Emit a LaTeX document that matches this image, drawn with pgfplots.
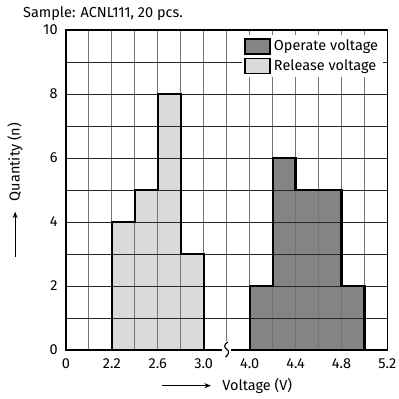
\documentclass[border=0pt]{standalone}
\usepackage{pgfplots}
\pgfplotsset{compat=1.18}
\usepackage{fontspec}
\setmainfont{Fira Sans}
\usetikzlibrary{arrows.meta}
\definecolor{relfill}{HTML}{DADADA}
\definecolor{opfill}{HTML}{848484}
\pgfplotstableread{
x y
2 0
2 4
3 5
4 8
5 3
6 0
}\release
\pgfplotstableread{
x y
8 0
8 2
9 6
10 5
11 5
12 2
13 0
}\operate
\begin{document}
\begin{tikzpicture}
\begin{axis}[
  set layers=axis on top,
  clip mode=individual,
  scale only axis,
  width=222pt, height=221pt,
  xmin=0, xmax=14, ymin=0, ymax=10,
  xtick={0,...,14},
  xticklabels={0,,2.2,,2.6,,3.0,,4.0,,4.4,,4.8,,5.2},
  ytick={0,...,10},
  yticklabels={0,,2,,4,,6,,8,,10},
  major tick length=0pt,
  xmajorgrids, ymajorgrids,
  x grid style={black!55, line width=0.6pt},
  y grid style={black!85, line width=0.6pt},
  axis line style={black, line width=1pt},
  /pgf/number format/assume math mode=true,
  tick label style={font=\normalsize},
  xticklabel style={yshift=-2.2pt},
  yticklabel style={xshift=-2.2pt},
  xlabel={\tikz[baseline=-3pt]\draw[line width=0.6pt,-{Stealth[length=4.5pt,width=3.5pt]}] (0,0)--(34pt,0);\hspace{7.6pt}Voltage (V)},
  ylabel={\tikz[baseline=-3pt]\draw[line width=0.6pt,-{Stealth[length=4.5pt,width=3.5pt]}] (0,0)--(31pt,0);\hspace{7pt}Quantity (n)},
  label style={font=\normalsize},
  xlabel style={at={(0.5,-0.1249)}, anchor=base},
  ylabel style={at={(-0.1443,0.5)}, anchor=base, rotate=0},
  legend style={at={(1,1)}, anchor=north east, draw=none, fill=white, font=\normalsize,
    inner xsep=1.5pt, inner ysep=2pt, row sep=2pt, xshift=-2.8pt, yshift=-3.5pt,
    nodes={inner xsep=2pt, inner ysep=1pt}},
  legend cell align=left,
  legend image code/.code={\draw[#1] (0pt,-5.2pt) rectangle (17.3pt,5.2pt);},
]
\addlegendimage{fill=opfill, draw=black, line width=1.1pt}
\addlegendentry{Operate voltage}
\addlegendimage{fill=relfill, draw=black, line width=1.1pt}
\addlegendentry{Release voltage}
% fills (grid drawn on top)
\addplot[const plot, fill=relfill, draw=none, forget plot] table {\release} -- cycle;
\addplot[const plot, fill=opfill, draw=none, forget plot] table {\operate} -- cycle;
% outlines above the grid
\addplot[const plot, draw=black, line width=1.5pt, forget plot, on layer=axis foreground] table {\release};
\addplot[const plot, draw=black, line width=1.5pt, forget plot, on layer=axis foreground] table {\operate};
% axis break symbol
\begin{pgfonlayer}{axis foreground}
\fill[white] (axis cs:6.8,-0.25) rectangle (axis cs:7.2,0.27);
\draw[line width=0.8pt] (axis cs:6.95,-0.22) .. controls (axis cs:7.12,-0.12) and (axis cs:7.12,-0.02) .. (axis cs:7.0,0.03)
  .. controls (axis cs:6.88,0.08) and (axis cs:6.88,0.18) .. (axis cs:7.05,0.25);
\end{pgfonlayer}
\coordinate (BL) at (rel axis cs:0,0);
\coordinate (TR) at (rel axis cs:1,1);
\end{axis}
\node[anchor=base west, inner sep=0pt, font=\normalsize] at ([shift={(-29.7pt,8.8pt)}]BL|-TR) {Sample: ACNL111, 20 pcs.};
\pgfresetboundingbox
\path[use as bounding box] ([shift={(-45.5pt,-33.8pt)}]BL) rectangle ([shift={(7.6pt,20.7pt)}]TR);
\end{tikzpicture}
\end{document}
